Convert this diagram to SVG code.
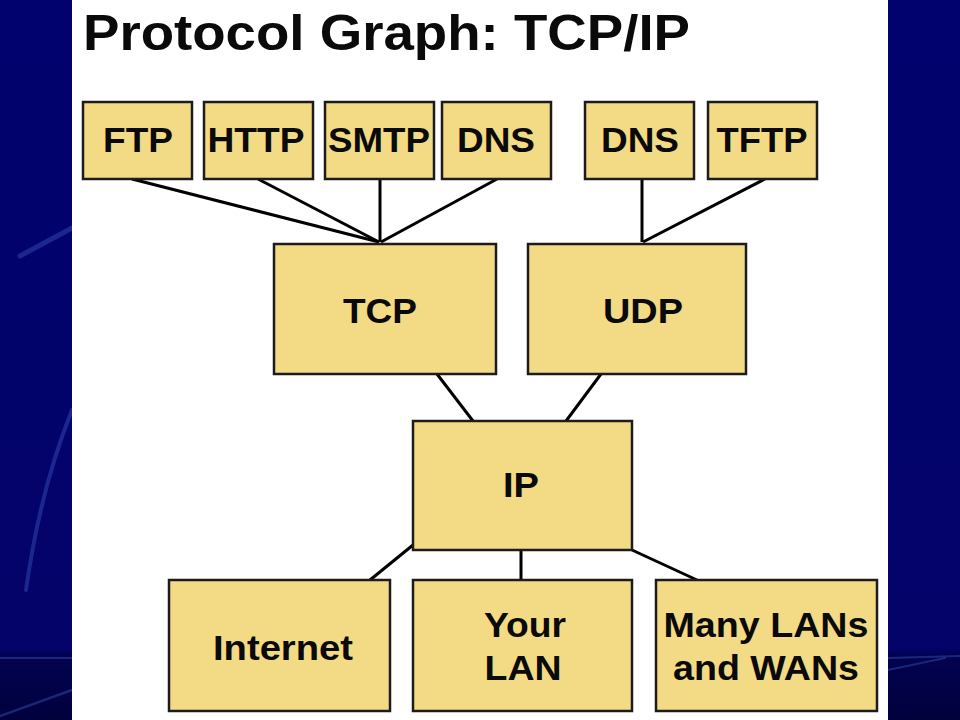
<svg xmlns="http://www.w3.org/2000/svg" width="960" height="720" viewBox="0 0 960 720">
<defs>
<linearGradient id="bg" x1="0" y1="0" x2="0" y2="1">
<stop offset="0" stop-color="#02026e"/>
<stop offset="0.9" stop-color="#03036a"/>
<stop offset="0.91" stop-color="#020250"/>
<stop offset="1" stop-color="#01013e"/>
</linearGradient>
<style>
.box{fill:#F3DA85;stroke:#1c1c1c;stroke-width:2.5}
.lbl{font-family:"Liberation Sans",Arial,sans-serif;font-weight:bold;font-size:35px;fill:#0a0a0a;text-anchor:middle}
.edge{stroke:#000;stroke-width:3;fill:none}
.deco{stroke:#4a6ad0;stroke-opacity:0.35;fill:none;stroke-linecap:round}
</style>
</defs>
<rect width="960" height="720" fill="url(#bg)"/>
<path class="deco" d="M20 256 L72 228" stroke-width="5"/>
<path class="deco" d="M26 590 Q40 490 72 410" stroke-width="4"/>
<path class="deco" d="M0 658 L72 658" stroke-width="2"/>
<path class="deco" d="M0 716 L72 690" stroke-width="2.5"/>
<path class="deco" d="M888 658 L960 656" stroke-width="2"/>
<path class="deco" d="M888 670 L945 658" stroke-width="2"/>
<rect x="72" y="0" width="816" height="720" fill="#ffffff"/>
<text x="83" y="50" font-family="Liberation Sans, Arial, sans-serif" font-weight="bold" font-size="50" fill="#0a0a0a" textLength="607" lengthAdjust="spacingAndGlyphs">Protocol Graph: TCP/IP</text>
<g id="connectors">
<line class="edge" x1="132" y1="179" x2="379" y2="242"/>
<line class="edge" x1="258" y1="179" x2="379" y2="242"/>
<line class="edge" x1="380" y1="179" x2="380" y2="242"/>
<line class="edge" x1="497" y1="179" x2="381" y2="242"/>
<line class="edge" x1="642" y1="179" x2="642" y2="242"/>
<line class="edge" x1="765" y1="179" x2="643" y2="242"/>
<line class="edge" x1="437" y1="374" x2="473" y2="421"/>
<line class="edge" x1="601" y1="374" x2="566" y2="421"/>
<line class="edge" x1="413" y1="545" x2="370" y2="580"/>
<line class="edge" x1="521" y1="550" x2="521" y2="580"/>
<line class="edge" x1="632" y1="550" x2="697" y2="580"/>
</g>
<g id="ftp"><rect class="box" x="83" y="102" width="109" height="77"/><text class="lbl" x="138" y="152" textLength="70" lengthAdjust="spacingAndGlyphs">FTP</text></g>
<g id="http"><rect class="box" x="204" y="102" width="109" height="77"/><text class="lbl" x="256" y="152" textLength="97" lengthAdjust="spacingAndGlyphs">HTTP</text></g>
<g id="smtp"><rect class="box" x="325" y="102" width="109" height="77"/><text class="lbl" x="379" y="152" textLength="102" lengthAdjust="spacingAndGlyphs">SMTP</text></g>
<g id="dns1"><rect class="box" x="442" y="102" width="109" height="77"/><text class="lbl" x="496" y="152" textLength="78" lengthAdjust="spacingAndGlyphs">DNS</text></g>
<g id="dns2"><rect class="box" x="585" y="102" width="109" height="77"/><text class="lbl" x="640" y="152" textLength="78" lengthAdjust="spacingAndGlyphs">DNS</text></g>
<g id="tftp"><rect class="box" x="708" y="102" width="109" height="77"/><text class="lbl" x="762" y="152" textLength="91" lengthAdjust="spacingAndGlyphs">TFTP</text></g>
<g id="tcp"><rect class="box" x="274" y="244" width="222" height="130"/><text class="lbl" x="380" y="323" textLength="74" lengthAdjust="spacingAndGlyphs">TCP</text></g>
<g id="udp"><rect class="box" x="528" y="244" width="218" height="130"/><text class="lbl" x="643" y="323" textLength="80" lengthAdjust="spacingAndGlyphs">UDP</text></g>
<g id="ip"><rect class="box" x="413" y="421" width="219" height="129"/><text class="lbl" x="521" y="497" textLength="36" lengthAdjust="spacingAndGlyphs">IP</text></g>
<g id="internet"><rect class="box" x="169" y="580" width="221" height="131"/><text class="lbl" x="283" y="660" textLength="140" lengthAdjust="spacingAndGlyphs">Internet</text></g>
<g id="yourlan"><rect class="box" x="413" y="580" width="219" height="131"/><text class="lbl" x="525" y="637" textLength="82" lengthAdjust="spacingAndGlyphs">Your</text><text class="lbl" x="523" y="680" textLength="77" lengthAdjust="spacingAndGlyphs">LAN</text></g>
<g id="manylans"><rect class="box" x="656" y="580" width="221" height="131"/><text class="lbl" x="766" y="637" textLength="205" lengthAdjust="spacingAndGlyphs">Many LANs</text><text class="lbl" x="766" y="680" textLength="186" lengthAdjust="spacingAndGlyphs">and WANs</text></g>
</svg>
